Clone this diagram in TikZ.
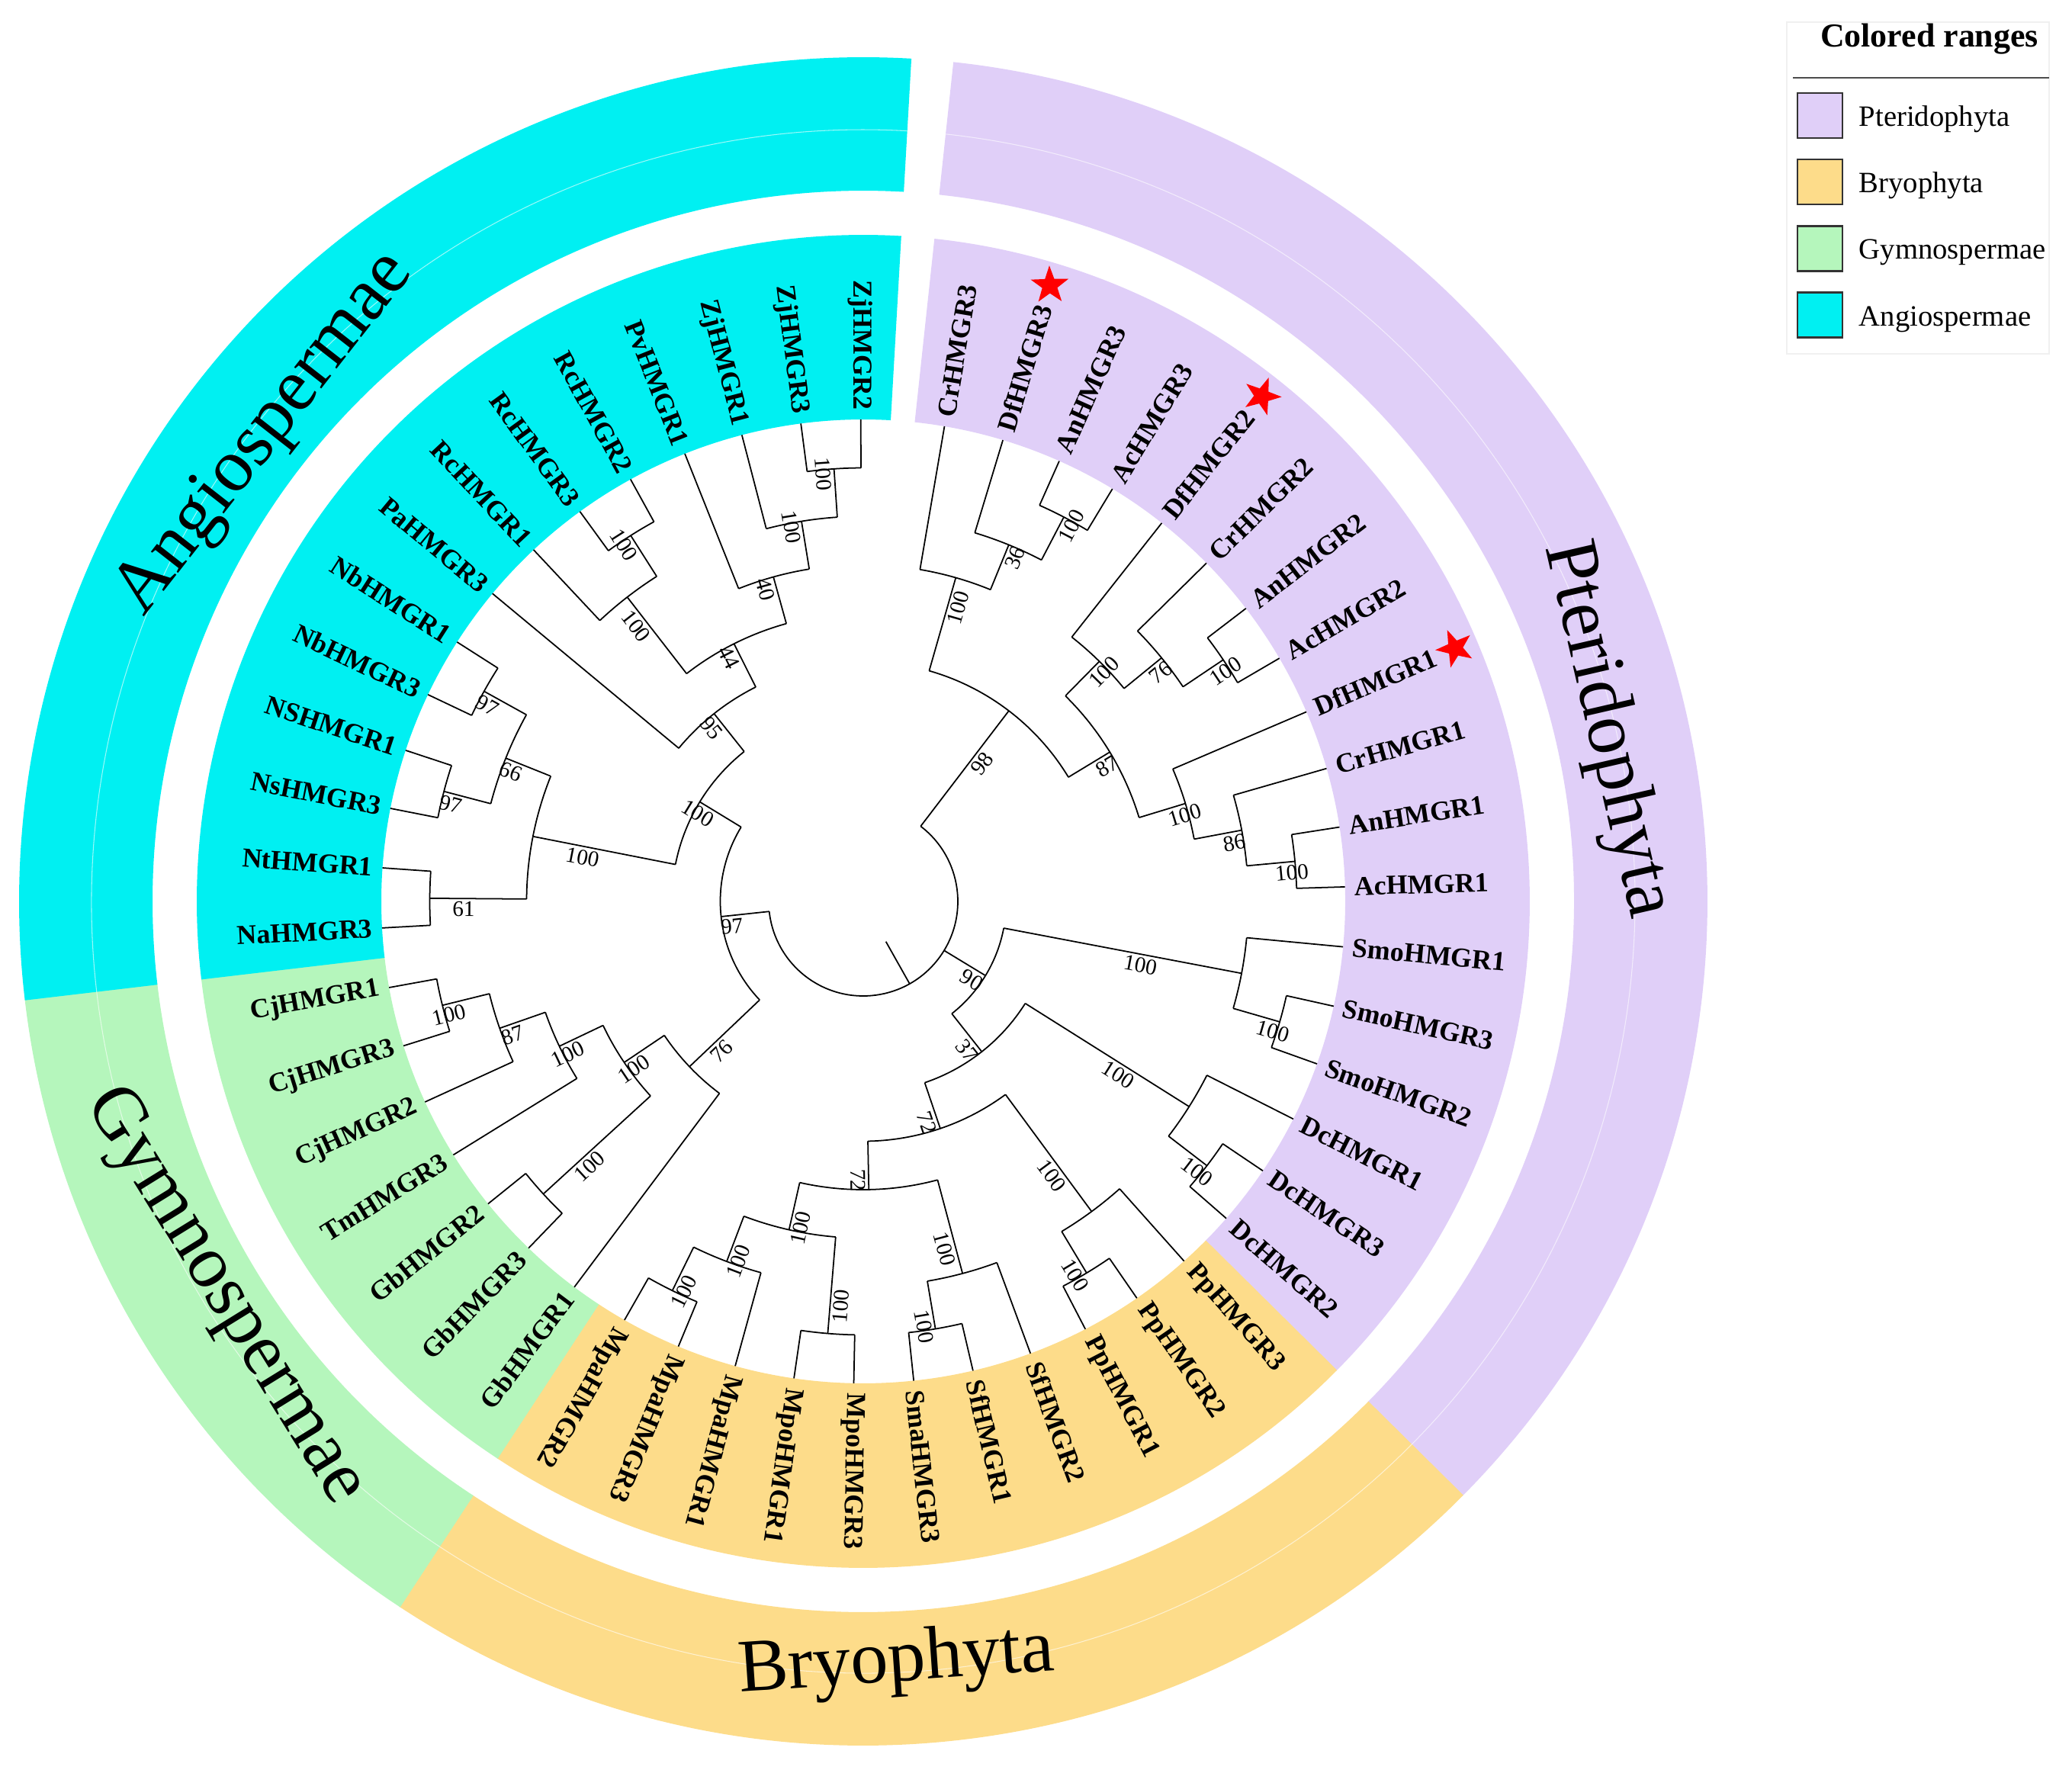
\documentclass[tikz,border=0pt]{standalone}
\usepackage{fontspec}
\setmainfont{Liberation Serif}
\usetikzlibrary{shapes.geometric}
\definecolor{pteri}{RGB}{224,207,248}
\definecolor{bryo}{RGB}{253,220,138}
\definecolor{gymno}{RGB}{181,246,188}
\definecolor{angio}{RGB}{0,240,242}

\begin{document}
\begin{tikzpicture}
[line width=0.5pt,
br/.style={draw=black, line width=0.5pt},
leafr/.style={anchor=west, inner sep=0pt, inner xsep=0.12cm, font=\fontsize{10.2}{12}\selectfont\bfseries},
leafl/.style={anchor=east, inner sep=0pt, inner xsep=0.12cm, font=\fontsize{10.2}{12}\selectfont\bfseries},
bootr/.style={anchor=north west, inner sep=1pt, font=\fontsize{8.3}{10}\selectfont},
bootl/.style={anchor=north east, inner sep=1pt, font=\fontsize{8.3}{10}\selectfont},
clade/.style={font=\fontsize{28}{32}\selectfont, inner sep=0pt},
redstar/.style={star, star points=5, star point ratio=2.5, fill=red, inner sep=0pt, minimum size=0.52cm},
seam/.style={draw=white, line width=0.3pt, opacity=0.6},
legbox/.style={rectangle, draw=black!80, line width=0.6pt, minimum size=0.59cm, inner sep=0pt},
legtext/.style={anchor=base west, inner sep=0pt, font=\fontsize{11}{13}\selectfont}]

\useasboundingbox (-11.32,-11.38) rectangle (15.85,11.82);

\fill[pteri] (83.87:6.32) arc[start angle=83.87, end angle=-44.80, radius=6.32] -- (-44.80:8.74) arc[start angle=-44.80, end angle=83.87, radius=8.74] -- cycle;
\fill[bryo] (-44.70:6.32) arc[start angle=-44.70, end angle=-123.37, radius=6.32] -- (-123.37:8.74) arc[start angle=-123.37, end angle=-44.70, radius=8.74] -- cycle;
\fill[gymno] (-123.27:6.32) arc[start angle=-123.27, end angle=-173.37, radius=6.32] -- (-173.37:8.74) arc[start angle=-173.37, end angle=-123.27, radius=8.74] -- cycle;
\fill[angio] (-173.27:6.32) arc[start angle=-173.27, end angle=-273.27, radius=6.32] -- (-273.27:8.74) arc[start angle=-273.27, end angle=-173.27, radius=8.74] -- cycle;

\fill[pteri] (83.87:9.32) arc[start angle=83.87, end angle=-44.80, radius=9.32] -- (-44.80:11.07) arc[start angle=-44.80, end angle=83.87, radius=11.07] -- cycle;
\fill[bryo] (-44.70:9.32) arc[start angle=-44.70, end angle=-123.37, radius=9.32] -- (-123.37:11.07) arc[start angle=-123.37, end angle=-44.70, radius=11.07] -- cycle;
\fill[gymno] (-123.27:9.32) arc[start angle=-123.27, end angle=-173.37, radius=9.32] -- (-173.37:11.07) arc[start angle=-173.37, end angle=-123.27, radius=11.07] -- cycle;
\fill[angio] (-173.27:9.32) arc[start angle=-173.27, end angle=-273.27, radius=9.32] -- (-273.27:11.07) arc[start angle=-273.27, end angle=-173.27, radius=11.07] -- cycle;
\draw[seam] (83.87:10.12) arc[start angle=83.87, end angle=-273.27, radius=10.12];

\coordinate (l00) at (80.30:6.32); \coordinate (l00b) at (80.30:4.415); \draw[br] (l00b) -- (l00); \node[leafr, rotate=80.30] (t00) at (l00) {CrHMGR3};
\coordinate (l01) at (73.16:6.32); \coordinate (l01b) at (73.16:5.05); \draw[br] (l01b) -- (l01); \node[leafr, rotate=73.16] (t01) at (l01) {DfHMGR3};
\coordinate (l02) at (66.01:6.32); \coordinate (l02b) at (66.01:5.685); \draw[br] (l02b) -- (l02); \node[leafr, rotate=66.01] (t02) at (l02) {AnHMGR3};
\coordinate (l03) at (58.87:6.32); \coordinate (l03b) at (58.87:5.685); \draw[br] (l03b) -- (l03); \node[leafr, rotate=58.87] (t03) at (l03) {AcHMGR3};
\coordinate (l04) at (51.73:6.32); \coordinate (l04b) at (51.73:4.415); \draw[br] (l04b) -- (l04); \node[leafr, rotate=51.73] (t04) at (l04) {DfHMGR2};
\coordinate (l05) at (44.59:6.32); \coordinate (l05b) at (44.59:5.05); \draw[br] (l05b) -- (l05); \node[leafr, rotate=44.59] (t05) at (l05) {CrHMGR2};
\coordinate (l06) at (37.44:6.32); \coordinate (l06b) at (37.44:5.685); \draw[br] (l06b) -- (l06); \node[leafr, rotate=37.44] (t06) at (l06) {AnHMGR2};
\coordinate (l07) at (30.30:6.32); \coordinate (l07b) at (30.30:5.685); \draw[br] (l07b) -- (l07); \node[leafr, rotate=30.30] (t07) at (l07) {AcHMGR2};
\coordinate (l08) at (23.16:6.32); \coordinate (l08b) at (23.16:4.415); \draw[br] (l08b) -- (l08); \node[leafr, rotate=23.16] (t08) at (l08) {DfHMGR1};
\coordinate (l09) at (16.01:6.32); \coordinate (l09b) at (16.01:5.05); \draw[br] (l09b) -- (l09); \node[leafr, rotate=16.01] (t09) at (l09) {CrHMGR1};
\coordinate (l10) at (8.87:6.32); \coordinate (l10b) at (8.87:5.685); \draw[br] (l10b) -- (l10); \node[leafr, rotate=8.87] (t10) at (l10) {AnHMGR1};
\coordinate (l11) at (1.73:6.32); \coordinate (l11b) at (1.73:5.685); \draw[br] (l11b) -- (l11); \node[leafr, rotate=1.73] (t11) at (l11) {AcHMGR1};
\coordinate (l12) at (-5.41:6.32); \coordinate (l12b) at (-5.41:5.05); \draw[br] (l12b) -- (l12); \node[leafr, rotate=-5.41] (t12) at (l12) {SmoHMGR1};
\coordinate (l13) at (-12.56:6.32); \coordinate (l13b) at (-12.56:5.685); \draw[br] (l13b) -- (l13); \node[leafr, rotate=-12.56] (t13) at (l13) {SmoHMGR3};
\coordinate (l14) at (-19.70:6.32); \coordinate (l14b) at (-19.70:5.685); \draw[br] (l14b) -- (l14); \node[leafr, rotate=-19.70] (t14) at (l14) {SmoHMGR2};
\coordinate (l15) at (-26.84:6.32); \coordinate (l15b) at (-26.84:5.05); \draw[br] (l15b) -- (l15); \node[leafr, rotate=-26.84] (t15) at (l15) {DcHMGR1};
\coordinate (l16) at (-33.99:6.32); \coordinate (l16b) at (-33.99:5.685); \draw[br] (l16b) -- (l16); \node[leafr, rotate=-33.99] (t16) at (l16) {DcHMGR3};
\coordinate (l17) at (-41.13:6.32); \coordinate (l17b) at (-41.13:5.685); \draw[br] (l17b) -- (l17); \node[leafr, rotate=-41.13] (t17) at (l17) {DcHMGR2};
\coordinate (l18) at (-48.27:6.32); \coordinate (l18b) at (-48.27:5.05); \draw[br] (l18b) -- (l18); \node[leafr, rotate=-48.27] (t18) at (l18) {PpHMGR3};
\coordinate (l19) at (-55.41:6.32); \coordinate (l19b) at (-55.41:5.685); \draw[br] (l19b) -- (l19); \node[leafr, rotate=-55.41] (t19) at (l19) {PpHMGR2};
\coordinate (l20) at (-62.56:6.32); \coordinate (l20b) at (-62.56:5.685); \draw[br] (l20b) -- (l20); \node[leafr, rotate=-62.56] (t20) at (l20) {PpHMGR1};
\coordinate (l21) at (-69.70:6.32); \coordinate (l21b) at (-69.70:5.05); \draw[br] (l21b) -- (l21); \node[leafr, rotate=-69.70] (t21) at (l21) {SfHMGR2};
\coordinate (l22) at (-76.84:6.32); \coordinate (l22b) at (-76.84:5.685); \draw[br] (l22b) -- (l22); \node[leafr, rotate=-76.84] (t22) at (l22) {SfHMGR1};
\coordinate (l23) at (-83.99:6.32); \coordinate (l23b) at (-83.99:5.685); \draw[br] (l23b) -- (l23); \node[leafr, rotate=-83.99] (t23) at (l23) {SmaHMGR3};
\coordinate (l24) at (-91.13:6.32); \coordinate (l24b) at (-91.13:5.685); \draw[br] (l24b) -- (l24); \node[leafr, rotate=-91.13] (t24) at (l24) {MpoHMGR3};
\coordinate (l25) at (-98.27:6.32); \coordinate (l25b) at (-98.27:5.685); \draw[br] (l25b) -- (l25); \node[leafr, rotate=-98.27] (t25) at (l25) {MpoHMGR1};
\coordinate (l26) at (-105.41:6.32); \coordinate (l26b) at (-105.41:5.05); \draw[br] (l26b) -- (l26); \node[leafr, rotate=-105.41] (t26) at (l26) {MpaHMGR1};
\coordinate (l27) at (-112.56:6.32); \coordinate (l27b) at (-112.56:5.685); \draw[br] (l27b) -- (l27); \node[leafr, rotate=-112.56] (t27) at (l27) {MpaHMGR3};
\coordinate (l28) at (-119.70:6.32); \coordinate (l28b) at (-119.70:5.685); \draw[br] (l28b) -- (l28); \node[leafr, rotate=-119.70] (t28) at (l28) {MpaHMGR2};
\coordinate (l29) at (-126.84:6.32); \coordinate (l29b) at (-126.84:3.145); \draw[br] (l29b) -- (l29); \node[leafl, rotate=53.16] (t29) at (l29) {GbHMGR1};
\coordinate (l30) at (-133.99:6.32); \coordinate (l30b) at (-133.99:5.685); \draw[br] (l30b) -- (l30); \node[leafl, rotate=46.01] (t30) at (l30) {GbHMGR3};
\coordinate (l31) at (-141.13:6.32); \coordinate (l31b) at (-141.13:5.685); \draw[br] (l31b) -- (l31); \node[leafl, rotate=38.87] (t31) at (l31) {GbHMGR2};
\coordinate (l32) at (-148.27:6.32); \coordinate (l32b) at (-148.27:4.415); \draw[br] (l32b) -- (l32); \node[leafl, rotate=31.73] (t32) at (l32) {TmHMGR3};
\coordinate (l33) at (-155.41:6.32); \coordinate (l33b) at (-155.41:5.05); \draw[br] (l33b) -- (l33); \node[leafl, rotate=24.59] (t33) at (l33) {CjHMGR2};
\coordinate (l34) at (-162.56:6.32); \coordinate (l34b) at (-162.56:5.685); \draw[br] (l34b) -- (l34); \node[leafl, rotate=17.44] (t34) at (l34) {CjHMGR3};
\coordinate (l35) at (-169.70:6.32); \coordinate (l35b) at (-169.70:5.685); \draw[br] (l35b) -- (l35); \node[leafl, rotate=10.30] (t35) at (l35) {CjHMGR1};
\coordinate (l36) at (-176.84:6.32); \coordinate (l36b) at (-176.84:5.685); \draw[br] (l36b) -- (l36); \node[leafl, rotate=3.16] (t36) at (l36) {NaHMGR3};
\coordinate (l37) at (-183.99:6.32); \coordinate (l37b) at (-183.99:5.685); \draw[br] (l37b) -- (l37); \node[leafl, rotate=-3.99] (t37) at (l37) {NtHMGR1};
\coordinate (l38) at (-191.13:6.32); \coordinate (l38b) at (-191.13:5.685); \draw[br] (l38b) -- (l38); \node[leafl, rotate=-11.13] (t38) at (l38) {NsHMGR3};
\coordinate (l39) at (-198.27:6.32); \coordinate (l39b) at (-198.27:5.685); \draw[br] (l39b) -- (l39); \node[leafl, rotate=-18.27] (t39) at (l39) {NSHMGR1};
\coordinate (l40) at (-205.41:6.32); \coordinate (l40b) at (-205.41:5.685); \draw[br] (l40b) -- (l40); \node[leafl, rotate=-25.41] (t40) at (l40) {NbHMGR3};
\coordinate (l41) at (-212.56:6.32); \coordinate (l41b) at (-212.56:5.685); \draw[br] (l41b) -- (l41); \node[leafl, rotate=-32.56] (t41) at (l41) {NbHMGR1};
\coordinate (l42) at (-219.70:6.32); \coordinate (l42b) at (-219.70:3.145); \draw[br] (l42b) -- (l42); \node[leafl, rotate=-39.70] (t42) at (l42) {PaHMGR3};
\coordinate (l43) at (-226.84:6.32); \coordinate (l43b) at (-226.84:5.05); \draw[br] (l43b) -- (l43); \node[leafl, rotate=-46.84] (t43) at (l43) {RcHMGR1};
\coordinate (l44) at (-233.99:6.32); \coordinate (l44b) at (-233.99:5.685); \draw[br] (l44b) -- (l44); \node[leafl, rotate=-53.99] (t44) at (l44) {RcHMGR3};
\coordinate (l45) at (-241.13:6.32); \coordinate (l45b) at (-241.13:5.685); \draw[br] (l45b) -- (l45); \node[leafl, rotate=-61.13] (t45) at (l45) {RcHMGR2};
\coordinate (l46) at (-248.27:6.32); \coordinate (l46b) at (-248.27:4.415); \draw[br] (l46b) -- (l46); \node[leafl, rotate=-68.27] (t46) at (l46) {PvHMGR1};
\coordinate (l47) at (-255.41:6.32); \coordinate (l47b) at (-255.41:5.05); \draw[br] (l47b) -- (l47); \node[leafl, rotate=-75.41] (t47) at (l47) {ZjHMGR1};
\coordinate (l48) at (-262.56:6.32); \coordinate (l48b) at (-262.56:5.685); \draw[br] (l48b) -- (l48); \node[leafl, rotate=-82.56] (t48) at (l48) {ZjHMGR3};
\coordinate (l49) at (-269.70:6.32); \coordinate (l49b) at (-269.70:5.685); \draw[br] (l49b) -- (l49); \node[leafl, rotate=-89.70] (t49) at (l49) {ZjHMGR2};

\coordinate (P1) at (62.44:5.685); \coordinate (P1b) at (62.44:5.05); \draw[br] (P1b) -- (P1); \draw[br] (l02b) arc[start angle=66.01, end angle=58.87, radius=5.685]; \node[bootr, rotate=62.44] (sP1) at (62.44:5.3675) {100};
\coordinate (P2) at (67.80:5.05); \coordinate (P2b) at (67.80:4.415); \draw[br] (P2b) -- (P2); \draw[br] (l01b) arc[start angle=73.16, end angle=62.44, radius=5.05]; \node[bootr, rotate=67.80] (sP2) at (67.80:4.7325) {36};
\coordinate (P3) at (74.05:4.415); \coordinate (P3b) at (74.05:3.145); \draw[br] (P3b) -- (P3); \draw[br] (l00b) arc[start angle=80.30, end angle=67.80, radius=4.415]; \node[bootr, rotate=74.05] (sP3) at (74.05:3.78) {100};
\coordinate (P4) at (33.87:5.685); \coordinate (P4b) at (33.87:5.05); \draw[br] (P4b) -- (P4); \draw[br] (l06b) arc[start angle=37.44, end angle=30.30, radius=5.685]; \node[bootr, rotate=33.87] (sP4) at (33.87:5.3675) {100};
\coordinate (P5) at (39.23:5.05); \coordinate (P5b) at (39.23:4.415); \draw[br] (P5b) -- (P5); \draw[br] (l05b) arc[start angle=44.59, end angle=33.87, radius=5.05]; \node[bootr, rotate=39.23] (sP5) at (39.23:4.7325) {76};
\coordinate (P6) at (45.48:4.415); \coordinate (P6b) at (45.48:3.78); \draw[br] (P6b) -- (P6); \draw[br] (l04b) arc[start angle=51.73, end angle=39.23, radius=4.415]; \node[bootr, rotate=45.48] (sP6) at (45.48:4.0975) {100};
\coordinate (P7) at (5.30:5.685); \coordinate (P7b) at (5.30:5.05); \draw[br] (P7b) -- (P7); \draw[br] (l10b) arc[start angle=8.87, end angle=1.73, radius=5.685]; \node[bootr, rotate=5.30] (sP7) at (5.30:5.3675) {100};
\coordinate (P8) at (10.66:5.05); \coordinate (P8b) at (10.66:4.415); \draw[br] (P8b) -- (P8); \draw[br] (l09b) arc[start angle=16.01, end angle=5.30, radius=5.05]; \node[bootr, rotate=10.66] (sP8) at (10.66:4.7325) {86};
\coordinate (P9) at (16.91:4.415); \coordinate (P9b) at (16.91:3.78); \draw[br] (P9b) -- (P9); \draw[br] (l08b) arc[start angle=23.16, end angle=10.66, radius=4.415]; \node[bootr, rotate=16.91] (sP9) at (16.91:4.0975) {100};
\coordinate (P10) at (31.20:3.78); \coordinate (P10b) at (31.20:3.145); \draw[br] (P10b) -- (P10); \draw[br] (P6b) arc[start angle=45.48, end angle=16.91, radius=3.78]; \node[bootr, rotate=31.20] (sP10) at (31.20:3.4625) {87};
\coordinate (P11) at (52.63:3.145); \coordinate (P11b) at (52.63:1.24); \draw[br] (P11b) -- (P11); \draw[br] (P3b) arc[start angle=74.05, end angle=31.20, radius=3.145]; \node[bootr, rotate=52.63] (sP11) at (52.63:2.1925) {98};

\coordinate (S1) at (-16.13:5.685); \coordinate (S1b) at (-16.13:5.05); \draw[br] (S1b) -- (S1); \draw[br] (l13b) arc[start angle=-12.56, end angle=-19.70, radius=5.685]; \node[bootr, rotate=-16.13] (sS1) at (-16.13:5.3675) {100};
\coordinate (S2) at (-10.77:5.05); \coordinate (S2b) at (-10.77:1.875); \draw[br] (S2b) -- (S2); \draw[br] (l12b) arc[start angle=-5.41, end angle=-16.13, radius=5.05]; \node[bootr, rotate=-10.77] (sS2) at (-10.77:3.4625) {100};
\coordinate (D1) at (-37.56:5.685); \coordinate (D1b) at (-37.56:5.05); \draw[br] (D1b) -- (D1); \draw[br] (l16b) arc[start angle=-33.99, end angle=-41.13, radius=5.685]; \node[bootr, rotate=-37.56] (sD1) at (-37.56:5.3675) {100};
\coordinate (D2) at (-32.20:5.05); \coordinate (D2b) at (-32.20:2.51); \draw[br] (D2b) -- (D2); \draw[br] (l15b) arc[start angle=-26.84, end angle=-37.56, radius=5.05]; \node[bootr, rotate=-32.20] (sD2) at (-32.20:3.78) {100};
\coordinate (B1) at (-58.99:5.685); \coordinate (B1b) at (-58.99:5.05); \draw[br] (B1b) -- (B1); \draw[br] (l19b) arc[start angle=-55.41, end angle=-62.56, radius=5.685]; \node[bootr, rotate=-58.99] (sB1) at (-58.99:5.3675) {100};
\coordinate (B2) at (-53.63:5.05); \coordinate (B2b) at (-53.63:3.145); \draw[br] (B2b) -- (B2); \draw[br] (l18b) arc[start angle=-48.27, end angle=-58.99, radius=5.05]; \node[bootr, rotate=-53.63] (sB2) at (-53.63:4.0975) {100};
\coordinate (B3) at (-80.42:5.685); \coordinate (B3b) at (-80.42:5.05); \draw[br] (B3b) -- (B3); \draw[br] (l22b) arc[start angle=-76.84, end angle=-83.99, radius=5.685]; \node[bootr, rotate=-80.42] (sB3) at (-80.42:5.3675) {100};
\coordinate (B4) at (-75.06:5.05); \coordinate (B4b) at (-75.06:3.78); \draw[br] (B4b) -- (B4); \draw[br] (l21b) arc[start angle=-69.70, end angle=-80.42, radius=5.05]; \node[bootr, rotate=-75.06] (sB4) at (-75.06:4.415) {100};
\coordinate (B5) at (-94.70:5.685); \coordinate (B5b) at (-94.70:4.415); \draw[br] (B5b) -- (B5); \draw[br] (l24b) arc[start angle=-91.13, end angle=-98.27, radius=5.685]; \node[bootl, rotate=85.30] (sB5) at (-94.70:5.05) {100};
\coordinate (B6) at (-116.13:5.685); \coordinate (B6b) at (-116.13:5.05); \draw[br] (B6b) -- (B6); \draw[br] (l27b) arc[start angle=-112.56, end angle=-119.70, radius=5.685]; \node[bootl, rotate=63.87] (sB6) at (-116.13:5.3675) {100};
\coordinate (B7) at (-110.77:5.05); \coordinate (B7b) at (-110.77:4.415); \draw[br] (B7b) -- (B7); \draw[br] (l26b) arc[start angle=-105.41, end angle=-116.13, radius=5.05]; \node[bootl, rotate=69.23] (sB7) at (-110.77:4.7325) {100};
\coordinate (B8) at (-102.74:4.415); \coordinate (B8b) at (-102.74:3.78); \draw[br] (B8b) -- (B8); \draw[br] (B5b) arc[start angle=-94.70, end angle=-110.77, radius=4.415]; \node[bootl, rotate=77.26] (sB8) at (-102.74:4.0975) {100};
\coordinate (B9) at (-88.90:3.78); \coordinate (B9b) at (-88.90:3.145); \draw[br] (B9b) -- (B9); \draw[br] (B4b) arc[start angle=-75.06, end angle=-102.74, radius=3.78]; \node[bootr, rotate=-88.90] (sB9) at (-88.90:3.4625) {72};
\coordinate (B10) at (-71.27:3.145); \coordinate (B10b) at (-71.27:2.51); \draw[br] (B10b) -- (B10); \draw[br] (B2b) arc[start angle=-53.63, end angle=-88.90, radius=3.145]; \node[bootr, rotate=-71.27] (sB10) at (-71.27:2.8275) {72};
\coordinate (C37) at (-51.74:2.51); \coordinate (C37b) at (-51.74:1.875); \draw[br] (C37b) -- (C37); \draw[br] (D2b) arc[start angle=-32.20, end angle=-71.27, radius=2.51]; \node[bootr, rotate=-51.74] (sC37) at (-51.74:2.1925) {37};
\coordinate (C90) at (-31.26:1.875); \coordinate (C90b) at (-31.26:1.24); \draw[br] (C90b) -- (C90); \draw[br] (S2b) arc[start angle=-10.77, end angle=-51.74, radius=1.875]; \node[bootr, rotate=-31.26] (sC90) at (-31.26:1.5575) {90};

\coordinate (G1) at (-166.13:5.685); \coordinate (G1b) at (-166.13:5.05); \draw[br] (G1b) -- (G1); \draw[br] (l34b) arc[start angle=-162.56, end angle=-169.70, radius=5.685]; \node[bootl, rotate=13.87] (sG1) at (-166.13:5.3675) {100};
\coordinate (G2) at (-160.77:5.05); \coordinate (G2b) at (-160.77:4.415); \draw[br] (G2b) -- (G2); \draw[br] (l33b) arc[start angle=-155.41, end angle=-166.13, radius=5.05]; \node[bootl, rotate=19.23] (sG2) at (-160.77:4.7325) {87};
\coordinate (G3) at (-154.52:4.415); \coordinate (G3b) at (-154.52:3.78); \draw[br] (G3b) -- (G3); \draw[br] (l32b) arc[start angle=-148.27, end angle=-160.77, radius=4.415]; \node[bootl, rotate=25.48] (sG3) at (-154.52:4.0975) {100};
\coordinate (G4) at (-137.56:5.685); \coordinate (G4b) at (-137.56:3.78); \draw[br] (G4b) -- (G4); \draw[br] (l30b) arc[start angle=-133.99, end angle=-141.13, radius=5.685]; \node[bootl, rotate=42.44] (sG4) at (-137.56:4.7325) {100};
\coordinate (G5) at (-146.04:3.78); \coordinate (G5b) at (-146.04:3.145); \draw[br] (G5b) -- (G5); \draw[br] (G4b) arc[start angle=-137.56, end angle=-154.52, radius=3.78]; \node[bootl, rotate=33.96] (sG5) at (-146.04:3.4625) {100};
\coordinate (G6) at (-136.44:3.145); \coordinate (G6b) at (-136.44:1.875); \draw[br] (G6b) -- (G6); \draw[br] (l29b) arc[start angle=-126.84, end angle=-146.04, radius=3.145]; \node[bootl, rotate=43.56] (sG6) at (-136.44:2.51) {76};

\coordinate (N4) at (-180.41:5.685); \coordinate (N4b) at (-180.41:4.415); \draw[br] (N4b) -- (N4); \draw[br] (l36b) arc[start angle=-176.84, end angle=-183.99, radius=5.685]; \node[bootl, rotate=-0.41] (sN4) at (-180.41:5.05) {61};
\coordinate (N2) at (-194.70:5.685); \coordinate (N2b) at (-194.70:5.05); \draw[br] (N2b) -- (N2); \draw[br] (l38b) arc[start angle=-191.13, end angle=-198.27, radius=5.685]; \node[bootl, rotate=-14.70] (sN2) at (-194.70:5.3675) {97};
\coordinate (N1) at (-208.99:5.685); \coordinate (N1b) at (-208.99:5.05); \draw[br] (N1b) -- (N1); \draw[br] (l40b) arc[start angle=-205.41, end angle=-212.56, radius=5.685]; \node[bootl, rotate=-28.99] (sN1) at (-208.99:5.3675) {97};
\coordinate (N3) at (-201.84:5.05); \coordinate (N3b) at (-201.84:4.415); \draw[br] (N3b) -- (N3); \draw[br] (N2b) arc[start angle=-194.70, end angle=-208.99, radius=5.05]; \node[bootl, rotate=-21.84] (sN3) at (-201.84:4.7325) {66};
\coordinate (N5) at (-191.13:4.415); \coordinate (N5b) at (-191.13:2.51); \draw[br] (N5b) -- (N5); \draw[br] (N4b) arc[start angle=-180.41, end angle=-201.84, radius=4.415]; \node[bootl, rotate=-11.13] (sN5) at (-191.13:3.4625) {100};
\coordinate (A4) at (-237.56:5.685); \coordinate (A4b) at (-237.56:5.05); \draw[br] (A4b) -- (A4); \draw[br] (l44b) arc[start angle=-233.99, end angle=-241.13, radius=5.685]; \node[bootl, rotate=-57.56] (sA4) at (-237.56:5.3675) {100};
\coordinate (A5) at (-232.20:5.05); \coordinate (A5b) at (-232.20:3.78); \draw[br] (A5b) -- (A5); \draw[br] (l43b) arc[start angle=-226.84, end angle=-237.56, radius=5.05]; \node[bootl, rotate=-52.20] (sA5) at (-232.20:4.415) {100};
\coordinate (A1) at (-266.13:5.685); \coordinate (A1b) at (-266.13:5.05); \draw[br] (A1b) -- (A1); \draw[br] (l48b) arc[start angle=-262.56, end angle=-269.70, radius=5.685]; \node[bootl, rotate=-86.13] (sA1) at (-266.13:5.3675) {100};
\coordinate (A2) at (-260.77:5.05); \coordinate (A2b) at (-260.77:4.415); \draw[br] (A2b) -- (A2); \draw[br] (l47b) arc[start angle=-255.41, end angle=-266.13, radius=5.05]; \node[bootl, rotate=-80.77] (sA2) at (-260.77:4.7325) {100};
\coordinate (A3) at (-254.52:4.415); \coordinate (A3b) at (-254.52:3.78); \draw[br] (A3b) -- (A3); \draw[br] (l46b) arc[start angle=-248.27, end angle=-260.77, radius=4.415]; \node[bootl, rotate=-74.52] (sA3) at (-254.52:4.0975) {40};
\coordinate (A6) at (-243.36:3.78); \coordinate (A6b) at (-243.36:3.145); \draw[br] (A6b) -- (A6); \draw[br] (A5b) arc[start angle=-232.20, end angle=-254.52, radius=3.78]; \node[bootl, rotate=-63.36] (sA6) at (-243.36:3.4625) {44};
\coordinate (A7) at (-231.53:3.145); \coordinate (A7b) at (-231.53:2.51); \draw[br] (A7b) -- (A7); \draw[br] (l42b) arc[start angle=-219.70, end angle=-243.36, radius=3.145]; \node[bootl, rotate=-51.53] (sA7) at (-231.53:2.8275) {95};
\coordinate (A8) at (-211.33:2.51); \coordinate (A8b) at (-211.33:1.875); \draw[br] (A8b) -- (A8); \draw[br] (N5b) arc[start angle=-191.13, end angle=-231.53, radius=2.51]; \node[bootl, rotate=-31.33] (sA8) at (-211.33:2.1925) {100};
\coordinate (C97) at (-173.89:1.875); \coordinate (C97b) at (-173.89:1.24); \draw[br] (C97b) -- (C97); \draw[br] (G6b) arc[start angle=-136.44, end angle=-211.33, radius=1.875]; \node[bootl, rotate=6.11] (sC97) at (-173.89:1.5575) {97};

\coordinate (root) at (-60.63:0.605); \coordinate (rootb) at (-60.63:1.24); \draw[br] (root) -- (rootb); \draw[br] (P11b) arc[start angle=52.63, end angle=-173.89, radius=1.24];

\node[redstar, rotate=73.16] (st1) at (73.16:8.44) {};
\node[redstar, rotate=51.73] (st2) at (51.73:8.44) {};
\node[redstar, rotate=23.16] (st3) at (23.16:8.44) {};

\node[clade, rotate=52] (cA) at (142:9.95) {Angiospermae};
\node[clade, rotate=-77] (cP) at (13:10.0) {Pteridophyta};
\node[clade, rotate=4] (cB) at (-87.5:10.0) {Bryophyta};
\node[clade, rotate=-58.3] (cG) at (-148.3:9.85) {Gymnospermae};

\draw[gray!12, line width=0.6pt, fill=white] (12.11,11.53) rectangle (15.55,7.18);
\node[anchor=base, inner sep=0pt, font=\fontsize{12.5}{15}\selectfont\bfseries] (ltitle) at (13.98,11.20) {Colored ranges};
\draw[black!70, line width=0.7pt] (12.19,10.80) -- (15.55,10.80);
\node[legbox, fill=pteri] (k1) at (12.545,10.305) {};
\node[legbox, fill=bryo] (k2) at (12.545,9.435) {};
\node[legbox, fill=gymno] (k3) at (12.545,8.56) {};
\node[legbox, fill=angio] (k4) at (12.545,7.69) {};
\node[legtext] (k1t) at (13.05,10.165) {Pteridophyta};
\node[legtext] (k2t) at (13.05,9.295) {Bryophyta};
\node[legtext] (k3t) at (13.05,8.42) {Gymnospermae};
\node[legtext] (k4t) at (13.05,7.55) {Angiospermae};
\end{tikzpicture}
\end{document}
